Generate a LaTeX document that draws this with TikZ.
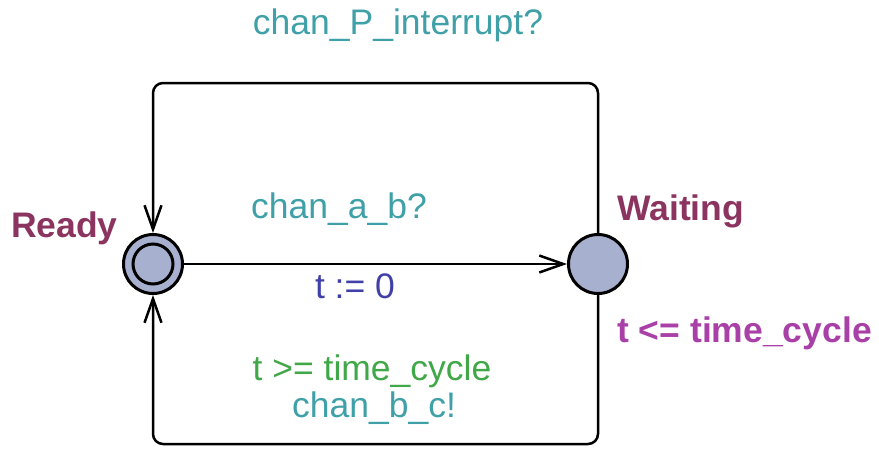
\documentclass[tikz,border=0pt]{standalone}
\usepackage{fontspec}
\setmainfont{Liberation Sans}
\usetikzlibrary{arrows.meta}
\definecolor{chanc}{RGB}{64,160,168}
\definecolor{assignc}{RGB}{64,64,168}
\definecolor{guardc}{RGB}{64,168,72}
\definecolor{invc}{RGB}{168,64,168}
\definecolor{namec}{RGB}{140,52,96}
\definecolor{locfill}{RGB}{168,176,208}
\begin{document}
\begin{tikzpicture}[x=1pt,y=-1pt,
  loc/.style={circle,draw=black,line width=3pt,fill=locfill,minimum size=59pt,inner sep=0pt},
  inner/.style={circle,draw=black,line width=3pt,minimum size=40pt,inner sep=0pt},
  edge/.style={draw=black,line width=2.5pt,-{Straight Barb[length=24pt,width=17pt,line width=2.5pt]},rounded corners=10pt},
  lbl/.style={inner sep=0pt,anchor=base,font=\fontsize{35.5}{42}\selectfont},
  blbl/.style={inner sep=0pt,anchor=base west,font=\fontsize{35.5}{42}\selectfont\bfseries}]
\useasboundingbox (0,0) rectangle (879,448);
\node[loc] (ready) at (153,264) {};
\node[inner] (readyin) at (153,264) {};
\node[loc] (waiting) at (598,264) {};
\coordinate (tr) at (598,83);
\coordinate (tl) at (153,83);
\coordinate (br) at (598,444);
\coordinate (bl) at (153,444);
\draw[edge] (waiting.north) -- (tr) -- (tl) -- (ready.north);
\draw[edge] (ready.east) -- (waiting.west);
\draw[edge] (waiting.south) -- (br) -- (bl) -- (ready.south);
\node[lbl,text=chanc] (lp) at (398,34) {chan\_P\_interrupt?};
\node[lbl,text=chanc] (lab) at (339,218) {chan\_a\_b?};
\node[lbl,text=assignc] (lt) at (355,298) {t := 0};
\node[lbl,text=guardc] (lg) at (372,380) {t >= time\_cycle};
\node[lbl,text=chanc] (lbc) at (374,417) {chan\_b\_c!};
\node[blbl,text=namec] (nready) at (11,237) {Ready};
\node[blbl,text=namec] (nwait) at (617,220) {Waiting};
\node[blbl,text=invc] (ninv) at (617,342) {t <= time\_cycle};
\end{tikzpicture}
\end{document}
